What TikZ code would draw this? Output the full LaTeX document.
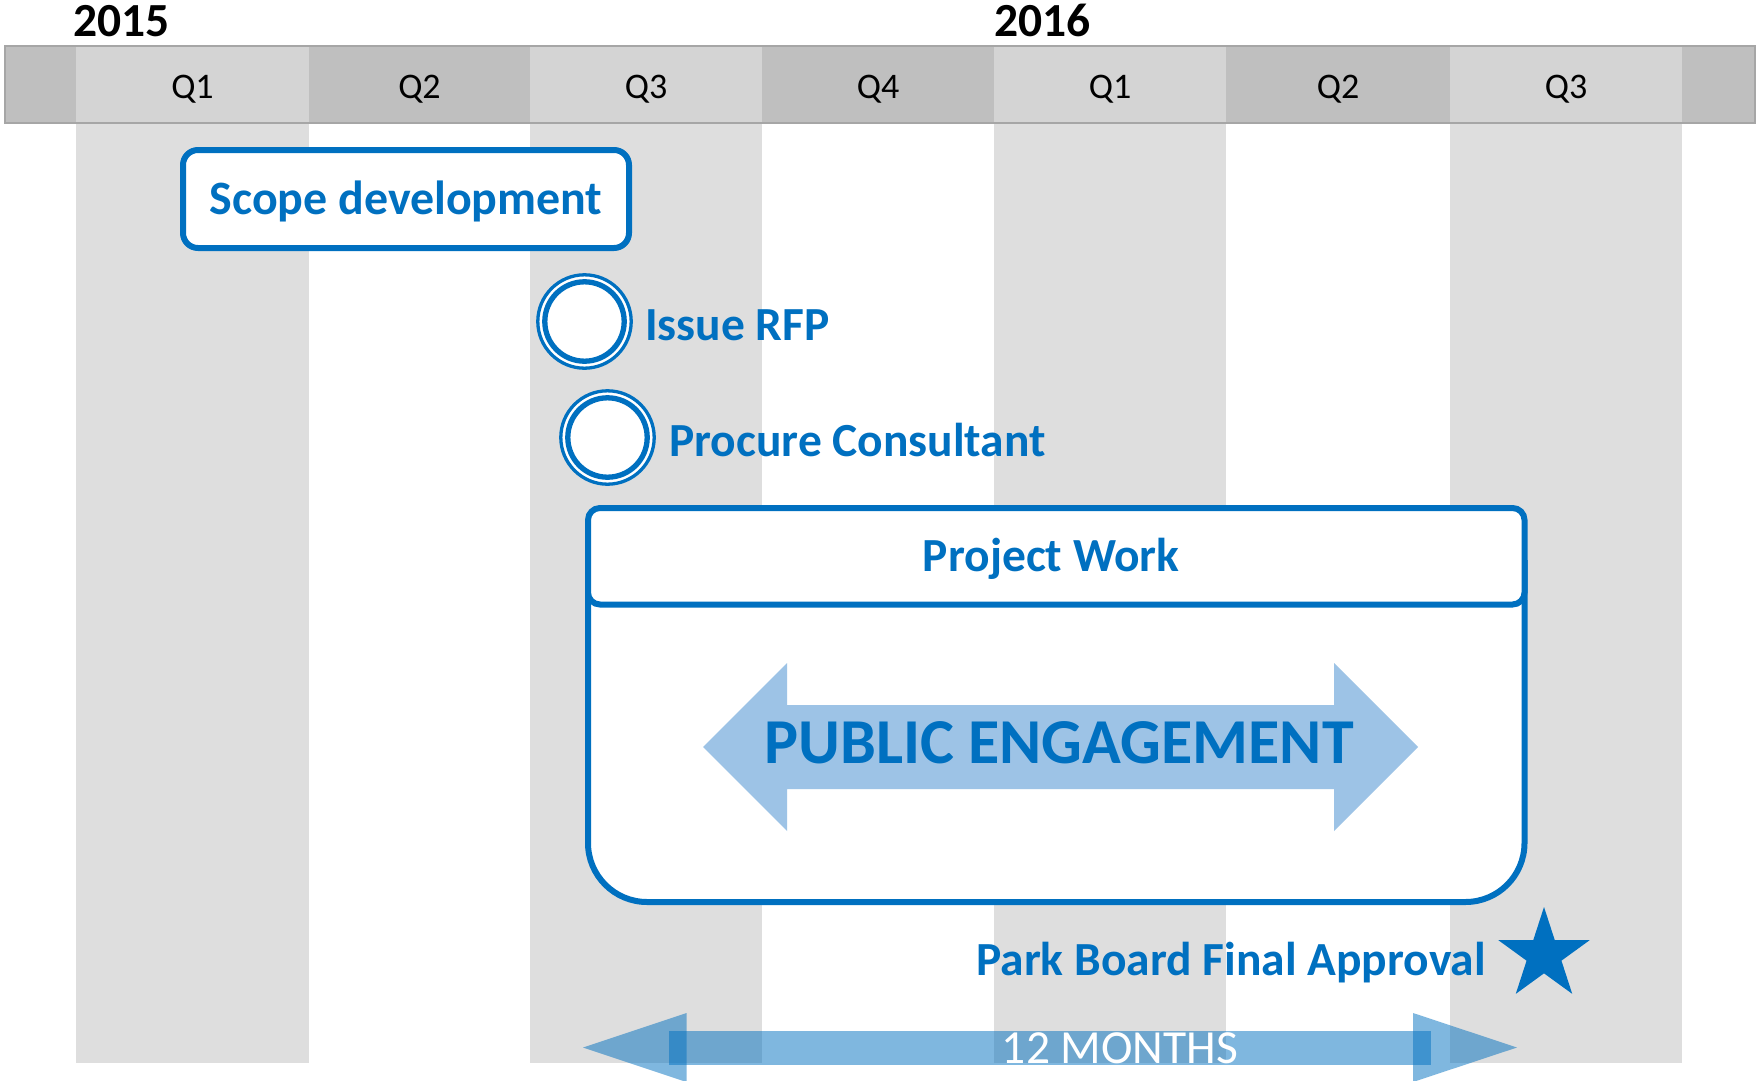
\documentclass[tikz,border=0pt]{standalone}
\usepackage{fontspec}
\setmainfont{Carlito}
\definecolor{mblue}{HTML}{0070C0}
\definecolor{lblue}{HTML}{9DC3E6}
\definecolor{colgray}{HTML}{DEDEDE}
\definecolor{hlight}{HTML}{D4D4D4}
\definecolor{hdark}{HTML}{BFBFBF}
\definecolor{hborder}{HTML}{A6A6A6}
\begin{document}
\begin{tikzpicture}[x=1pt,y=-1pt,
  qlab/.style={font=\fontsize{36}{43}\selectfont, anchor=base, inner sep=0pt},
  yearlab/.style={font=\fontsize{47.5}{57}\selectfont\bfseries, anchor=base west, inner sep=0pt},
  bluetext/.style={text=mblue, font=\fontsize{47.5}{57}\selectfont\bfseries},
  msring/.style={circle, draw=mblue, line width=5.3pt, fill=white, minimum size=79.4pt, inner sep=0pt},
  outring/.style={draw=mblue, line width=3.3pt, fill=white},
  boxline/.style={draw=mblue, line width=6pt, fill=white},
  halfblue/.style={fill=mblue, opacity=0.5}
]
\useasboundingbox (0,0) rectangle (1756,1081);
\clip (0,0) rectangle (1756,1081);
\fill[white] (0,0) rectangle (1756,1081);
% columns
\foreach \a/\b in {76/309, 530/762, 994/1226, 1450/1682}
  \fill[colgray] (\a,124) rectangle (\b,1063);
% header bar
\fill[hdark] (5,46) rectangle (1755,123);
\foreach \a/\b in {76/309, 530/762, 994/1226, 1450/1682}
  \fill[hlight] (\a,46) rectangle (\b,123);
\draw[hborder, line width=2pt] (5,46) rectangle (1755,123);
\foreach \x/\t [count=\i] in {192.5/Q1, 419.5/Q2, 646/Q3, 878/Q4, 1110/Q1, 1338/Q2, 1566/Q3}
  \node[qlab] (q\i) at (\x,98) {\t};
\node[yearlab] (y2015) at (73,37) {2015};
\node[yearlab] (y2016) at (994,37) {2016};
% scope development
\node[boxline, rounded corners=15pt, minimum width=446pt, minimum height=98pt, inner sep=0pt,
  text=mblue, font=\fontsize{47.9}{58}\selectfont\bfseries, text height=31pt, text depth=0pt]
  (scope) at (406,199) {Scope development};
% milestones
\coordinate (rfpc) at (584.5,321.5);
\draw[outring] (rfpc) circle[radius=46.7pt];
\node[msring] (rfp) at (rfpc) {};
\node[bluetext, anchor=base west, inner sep=0pt] (rfplab) at (645,340) {Issue RFP};
\coordinate (procc) at (607.5,437.5);
\draw[outring] (procc) circle[radius=46.7pt];
\node[msring] (proc) at (procc) {};
\node[bluetext, anchor=base west, inner sep=0pt] (proclab) at (669,456) {Procure Consultant};
% project work
\draw[boxline, rounded corners=59pt] (588,560) -- (588,902) -- (1524.5,902) -- (1524.5,560);
\node[boxline, rounded corners=12pt, minimum width=936.5pt, minimum height=96.5pt, inner sep=0pt,
  bluetext, text height=30pt, text depth=0pt] (pw) at (1056.25,556.25) {\hspace*{-10pt}Project Work};
% public engagement arrow
\fill[lblue] (703,747) -- (787,663) -- (787,705) -- (1334,705) -- (1334,663) -- (1418,747)
  -- (1334,831) -- (1334,789) -- (787,789) -- (787,831) -- cycle;
\node[text=mblue, font=\fontsize{64}{76}\selectfont\bfseries, anchor=base, inner sep=0pt]
  (pe) at (1059,763) {PUBLIC ENGAGEMENT};
% approval
\node[bluetext, anchor=base west, inner sep=0pt] (pb) at (976,975) {Park Board Final Approval};
\fill[mblue] (1544,907) -- (1554.78,940.16) -- (1589.65,940.17) -- (1561.44,960.67)
  -- (1572.21,993.83) -- (1544,973.34) -- (1515.79,993.83) -- (1526.56,960.67)
  -- (1498.35,940.17) -- (1533.22,940.16) -- cycle;
% 12 months arrow
\fill[halfblue] (669,1031) rectangle (1431,1065);
\fill[halfblue] (583,1047.5) -- (686.5,1013) -- (686.5,1082) -- cycle;
\fill[halfblue] (1517,1047.5) -- (1413,1013) -- (1413,1082) -- cycle;
\node[text=white, font=\fontsize{47.5}{57}\selectfont, anchor=base, inner sep=0pt]
  (months) at (1120,1063) {12 MONTHS};
\end{tikzpicture}
\end{document}
